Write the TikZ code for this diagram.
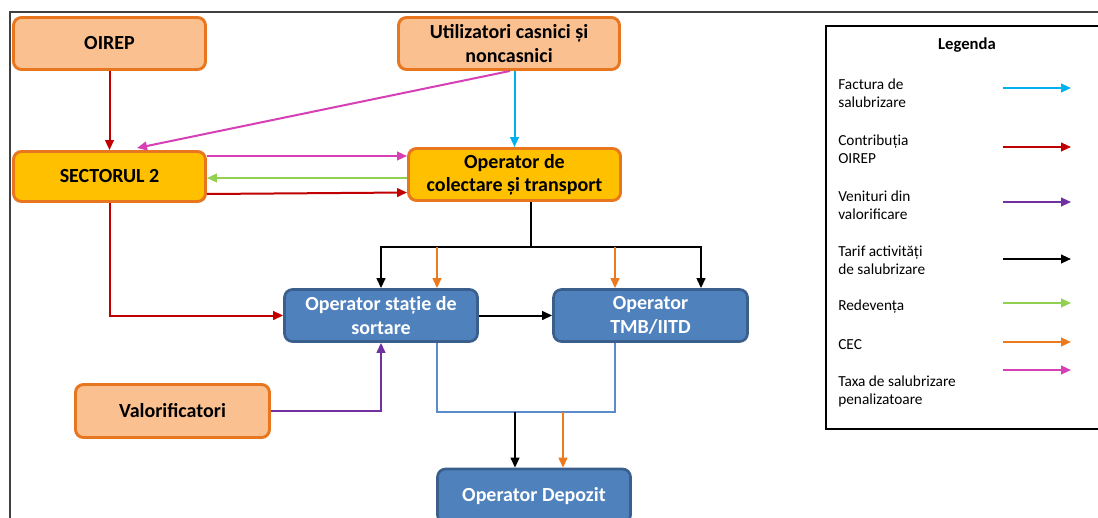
\documentclass[tikz,border=0pt]{standalone}
\usepackage{fontspec}
\setmainfont{Carlito}
\usetikzlibrary{arrows.meta,calc}
\definecolor{cLor}{HTML}{FAC090}
\definecolor{cOrB}{HTML}{E8761E}
\definecolor{cGold}{HTML}{FFC000}
\definecolor{cBlue}{HTML}{4F81BD}
\definecolor{cBlueB}{HTML}{3A5F8D}
\definecolor{cBl2}{HTML}{5A8CCB}
\definecolor{cCyan}{HTML}{00B0F0}
\definecolor{cRed}{HTML}{C00000}
\definecolor{cMag}{HTML}{D640B4}
\definecolor{cGreen}{HTML}{92D050}
\definecolor{cOr}{HTML}{EB7A1E}
\definecolor{cPur}{HTML}{7030A0}
\definecolor{cFrame}{HTML}{404040}
\begin{document}
\begin{tikzpicture}[x=0.75pt,y=-0.75pt,
  base/.style={rounded corners=6pt, align=center, inner sep=2pt, font=\fontsize{15}{17.5}\selectfont\bfseries},
  lor/.style={base, fill=cLor, draw=cOrB, line width=2.2pt, text=black},
  gold/.style={base, fill=cGold, draw=cOrB, line width=2.2pt, text=black},
  blu/.style={base, fill=cBlue, draw=cBlueB, line width=2pt, text=white},
  sz/.style 2 args={minimum width=#1*0.75pt, minimum height=#2*0.75pt},
  arr/.style={line width=1.5pt, -{Triangle[length=7.5pt,width=6.5pt]}},
  ln/.style={line width=1.5pt},
  leg/.style={anchor=west, align=left, inner sep=0pt, font=\fontsize{11.5}{13.5}\selectfont},
]
\useasboundingbox (0,0) rectangle (1098,517);
\fill[white] (0,0) rectangle (1098,517);

% frame
\draw[line width=1.2pt, cFrame] (1098,12) -- (10,12) -- (10,520);

% nodes
\node[lor, sz={192}{52}] (oirep) at (109.5,43.5) {OIREP};
\node[lor, sz={221}{52}] (util) at (509,43.5) {Utilizatori casnici și\\noncasnici};
\node[gold, sz={192}{50}] (sect) at (109.5,176.5) {SECTORUL 2};
\node[gold, sz={212}{52}] (colect) at (514.5,174.5) {Operator de\\colectare și transport};
\node[blu, sz={193}{52}] (sort) at (381,315.5) {Operator stație de\\sortare};
\node[blu, sz={194}{52}] (tmb) at (650.5,315.5) {Operator\\TMB/IITD};
\node[blu, sz={193}{54}] (dep) at (534,496) {Operator Depozit};
\node[lor, sz={194}{53}] (valor) at (172.5,411) {Valorificatori};

% connectors
\draw[arr,cRed] (oirep) -- (sect);
\draw[arr,cMag] ($(util.south)+(1,0)$) -- ($(sect.north)+(27.5,-2)$);
\draw[arr,cCyan] (util.south -| colect.north) -- (colect.north);
\draw[arr,cMag] ($(sect.east)+(0,-20.5)$) -- ($(colect.west)+(0,-18.5)$);
\draw[arr,cGreen] ($(colect.west)+(0,3.5)$) -- ($(sect.east)+(0,1.5)$);
\draw[arr,cRed] ($(sect.east)+(0,17.5)$) -- ($(colect.west)+(0,18)$);
\draw[arr,cRed] (sect.south) |- (sort.west);

\coordinate (j) at (531,247);
\draw[ln] (colect.south -| j) -- (j);
\draw[arr] (j) -| (sort.north);
\coordinate (t1) at ($(tmb.north)+(50.5,0)$);
\draw[arr] (j) -| (t1);
\coordinate (o1) at ($(sort.north)+(56,0)$);
\coordinate (o2) at ($(tmb.north)+(-35.5,0)$);
\draw[arr,cOr] (o1 |- j) -- (o1);
\draw[arr,cOr] (o2 |- j) -- (o2);
\draw[arr] (sort.east) -- (tmb.west);
\draw[arr,cPur] (valor.east) -| (sort.south);

\coordinate (b1) at ($(sort.south)+(56,0)$);
\coordinate (b2) at ($(tmb.south)+(-35.5,0)$);
\coordinate (by) at (0,412);
\draw[line width=1.3pt,cBl2] (b1) -- (b1 |- by) -- (b2 |- by) -- (b2);
\coordinate (d1) at ($(dep.north)+(-19,0)$);
\coordinate (d2) at ($(dep.north)+(29,0)$);
\draw[arr] (d1 |- by) -- (d1);
\draw[arr,cOr] (d2 |- by) -- (d2);

% legend
\draw[line width=1.2pt] (1110,26) -- (826,26) -- (826,429) -- (1110,429);
\node[font=\fontsize{12.5}{15}\selectfont\bfseries] (legt) at (967,45) {Legenda};
\node[leg] (l1) at (838,93) {Factura de\\salubrizare};
\node[leg] (l2) at (838,149) {Contribuția\\OIREP};
\node[leg] (l3) at (838,205) {Venituri din\\valorificare};
\node[leg] (l4) at (838,260.5) {Tarif activități\\de salubrizare};
\node[leg] (l5) at (838,307) {Redevența};
\node[leg] (l6) at (838,345) {CEC};
\node[leg] (l7) at (838,391) {Taxa de salubrizare\\penalizatoare};
\coordinate (a1s) at (1003,88);  \coordinate (a1e) at (1071,88);
\coordinate (a2s) at (1003,147); \coordinate (a2e) at (1071,147);
\coordinate (a3s) at (1003,202); \coordinate (a3e) at (1071,202);
\coordinate (a4s) at (1003,259); \coordinate (a4e) at (1071,259);
\coordinate (a5s) at (1003,303); \coordinate (a5e) at (1071,303);
\coordinate (a6s) at (1003,342); \coordinate (a6e) at (1071,342);
\coordinate (a7s) at (1003,370); \coordinate (a7e) at (1071,370);
\draw[arr,cCyan] (a1s) -- (a1e);
\draw[arr,cRed] (a2s) -- (a2e);
\draw[arr,cPur] (a3s) -- (a3e);
\draw[arr] (a4s) -- (a4e);
\draw[arr,cGreen] (a5s) -- (a5e);
\draw[arr,cOr] (a6s) -- (a6e);
\draw[arr,cMag] (a7s) -- (a7e);
\end{tikzpicture}
\end{document}
